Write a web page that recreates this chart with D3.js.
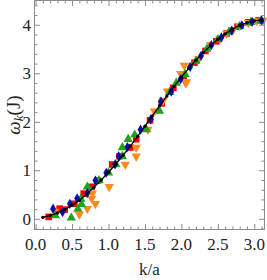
<html>
<head>
<script src="https://cdnjs.cloudflare.com/ajax/libs/d3/7.8.5/d3.min.js"></script>
<style>
body { margin: 0; background: #fff; }
text { font-family: "Liberation Serif", "DejaVu Serif", serif; }
</style>
</head>
<body>
<svg id="chart" width="267" height="280"></svg>
<script>
// curve (black, joined)
var curveK = [0.1,0.2,0.3,0.4,0.5,0.6,0.7,0.8,0.9,1.0,1.1,1.2,1.3,1.4,1.5,1.6,1.7,1.8,1.9,2.0,2.1,2.2,2.3,2.4,2.5,2.6,2.7,2.8,2.9,3.0,3.1];
var curveW = [0.03,0.07,0.12,0.19,0.28,0.38,0.51,0.65,0.80,0.96,1.13,1.31,1.50,1.70,1.91,2.12,2.33,2.53,2.73,2.92,3.10,3.27,3.43,3.57,3.70,3.81,3.91,3.99,4.04,4.08,4.10];

// red squares
var redK = [0.18,0.33,0.40,0.53,0.66,0.77,0.85,1.05,1.15,1.30,1.38,1.57,1.73,1.89,2.03,2.18,2.33,2.48,2.62,2.77,2.92,3.06];
var redW = [0.04,0.21,0.19,0.31,0.52,0.66,0.79,1.12,1.29,1.47,1.64,2.03,2.38,2.70,2.95,3.22,3.46,3.66,3.82,3.96,4.05,4.09];

// orange down triangles
var orangeK = [0.26,0.60,0.71,0.82,0.77,0.78,1.01,1.23,1.38,1.38,1.54,1.63,1.75,1.81,1.99,2.06,2.04,2.07,2.24,2.40,2.53,2.62,2.71,2.80,2.92,3.03,3.12];
var orangeW = [0.15,0.09,0.21,0.31,0.42,0.53,0.66,1.12,1.29,1.47,1.84,2.22,2.44,2.63,2.99,2.80,3.16,2.82,3.30,3.59,3.71,3.82,3.90,3.98,4.04,4.08,4.09];

// green up triangles
var greenK = [0.27,0.49,0.58,0.62,0.63,0.71,0.87,1.00,1.10,1.19,1.19,1.27,1.36,1.52,1.70,1.84,1.93,2.05,2.20,2.35,2.50,2.65,2.80,2.95,3.09];
var greenW = [0.07,0.02,0.20,0.41,0.30,0.66,0.79,0.95,1.12,1.29,1.47,1.64,1.73,1.84,2.22,2.61,2.80,2.98,3.25,3.50,3.70,3.85,3.97,4.05,4.08];

// blue diamonds
var blueK = [0.24,0.37,0.47,0.57,0.71,0.82,0.97,1.09,1.14,1.26,1.44,1.58,1.72,1.86,1.99,2.12,2.27,2.41,2.55,2.69,2.83,2.97,3.10];
var blueW = [0.21,0.14,0.31,0.42,0.53,0.79,0.95,1.12,1.29,1.48,1.84,2.05,2.42,2.62,2.88,3.13,3.36,3.58,3.74,3.88,3.99,4.06,4.09];

var xTicks = [0.0,0.5,1.0,1.5,2.0,2.5,3.0];
var yTicks = [0,1,2,3,4];

var svg = d3.select("#chart");
var L = 34.5, R = 264.5, T = 0.5, B = 229.5;
var x = d3.scaleLinear().domain([-0.015, 3.14]).range([L, R]);
var y = d3.scaleLinear().domain([-0.22, 4.5]).range([B, T]);

function zip(ks, ws) { return ks.map(function(k, i) { return {k: k, w: ws[i]}; }); }

var plot = svg.append("g");

// red squares
plot.selectAll(".red").data(zip(redK, redW)).enter().append("rect")
  .attr("x", function(d) { return x(d.k) - 3.3; })
  .attr("y", function(d) { return y(d.w) - 3.3; })
  .attr("width", 6.6).attr("height", 6.6)
  .attr("fill", "#ff0000");

var tri = d3.symbol().type(d3.symbolTriangle).size(38);

plot.selectAll(".orange").data(zip(orangeK, orangeW)).enter().append("path")
  .attr("d", tri)
  .attr("transform", function(d) { return "translate(" + x(d.k) + "," + y(d.w) + ") rotate(180)"; })
  .attr("fill", "#ff8a1c");

plot.selectAll(".green").data(zip(greenK, greenW)).enter().append("path")
  .attr("d", tri)
  .attr("transform", function(d) { return "translate(" + x(d.k) + "," + y(d.w) + ")"; })
  .attr("fill", "#1ca51c");

plot.selectAll(".blue").data(zip(blueK, blueW)).enter().append("path")
  .attr("d", d3.symbol().type(d3.symbolDiamond).size(30))
  .attr("transform", function(d) { return "translate(" + x(d.k) + "," + y(d.w) + ")"; })
  .attr("fill", "#0b0bb0");

// black curve
var curve = zip(curveK, curveW);
plot.append("path").datum(curve)
  .attr("d", d3.line().x(function(d) { return x(d.k); }).y(function(d) { return y(d.w); }))
  .attr("fill", "none").attr("stroke", "#000").attr("stroke-width", 1.3);
plot.selectAll(".black").data(curve).enter().append("circle")
  .attr("cx", function(d) { return x(d.k); })
  .attr("cy", function(d) { return y(d.w); })
  .attr("r", 1.7).attr("fill", "#000");

// frame and ticks (inward, all four sides)
var axisColor = "#8c8c8c";
function inTicks(axisFn, scale, major, minorStep, transform, sign) {
  var lo = scale.domain()[0], hi = scale.domain()[1];
  var minor = d3.range(Math.ceil(lo / minorStep) * minorStep, hi + 1e-9, minorStep)
    .map(function(v) { return Math.round(v * 100) / 100; })
    .filter(function(v) { return major.every(function(m) { return Math.abs(m - v) > 1e-6; }); });
  var gMin = svg.append("g").attr("transform", transform)
    .call(axisFn(scale).tickValues(minor).tickSize(-3 * sign).tickFormat(""));
  var gMaj = svg.append("g").attr("transform", transform)
    .call(axisFn(scale).tickValues(major).tickSize(-5.5 * sign).tickFormat(""));
  [gMin, gMaj].forEach(function(g) {
    g.select(".domain").remove();
    g.selectAll("line").attr("stroke", axisColor).attr("stroke-width", 1);
  });
}
inTicks(d3.axisBottom, x, xTicks, 0.1, "translate(0," + B + ")", 1);
inTicks(d3.axisTop, x, xTicks, 0.1, "translate(0," + T + ")", 1);
inTicks(d3.axisLeft, y, yTicks, 0.2, "translate(" + L + ",0)", 1);
inTicks(d3.axisRight, y, yTicks, 0.2, "translate(" + R + ",0)", 1);

svg.append("rect")
  .attr("x", L).attr("y", T).attr("width", R - L).attr("height", B - T)
  .attr("fill", "none").attr("stroke", axisColor).attr("stroke-width", 1);

// tick labels
svg.selectAll(".xl").data(xTicks).enter().append("text")
  .attr("x", function(d) { return x(d); })
  .attr("y", 250)
  .attr("text-anchor", "middle")
  .attr("font-size", 17)
  .attr("fill", "#222")
  .text(function(d) { return d.toFixed(1); });

svg.selectAll(".yl").data(yTicks).enter().append("text")
  .attr("x", 31)
  .attr("y", function(d) { return y(d) + 6; })
  .attr("text-anchor", "end")
  .attr("font-size", 17)
  .attr("fill", "#222")
  .text(function(d) { return d; });

// axis titles
svg.append("text")
  .attr("x", (L + R) / 2).attr("y", 275)
  .attr("text-anchor", "middle").attr("font-size", 17)
  .attr("fill", "#222")
  .text("k/a");

var yl = svg.append("text")
  .attr("transform", "translate(20," + ((T + B) / 2) + ") rotate(-90)")
  .attr("text-anchor", "middle").attr("font-size", 19)
  .attr("fill", "#222");
yl.append("tspan").attr("font-style", "italic").text("ω");
yl.append("tspan").attr("font-style", "italic").attr("font-size", 13).attr("dy", 3).text("k");
yl.append("tspan").attr("dy", -3).text("(J)");
</script>
</body>
</html>
